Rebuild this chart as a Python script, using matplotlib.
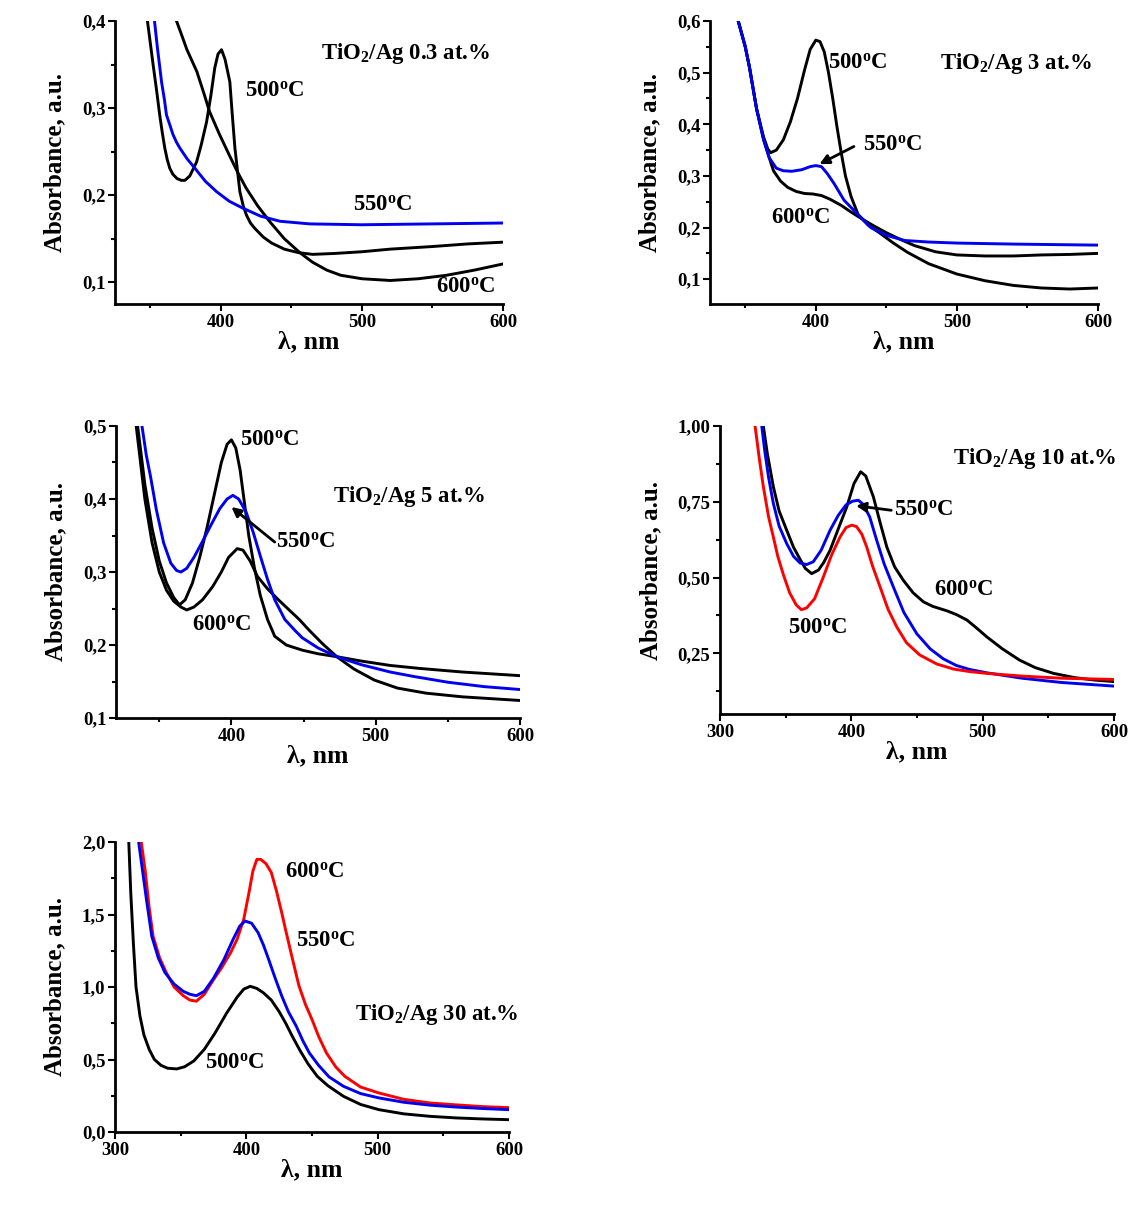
import numpy as np
import matplotlib
matplotlib.use("Agg")
import matplotlib.pyplot as plt

plt.rcParams['font.family'] = ['Liberation Serif', 'DejaVu Serif']
plt.rcParams['font.weight'] = 'bold'
plt.rcParams['mathtext.fontset'] = 'custom'
plt.rcParams['mathtext.rm'] = 'Liberation Serif:bold'
plt.rcParams['mathtext.it'] = 'Liberation Serif:bold'
plt.rcParams['mathtext.bf'] = 'Liberation Serif:bold'

BLUE = '#0000f0'
RED = '#ff0000'

# ---- TiO2/Ag 0.3 at.% ----
p1_500_x = [348, 350, 352, 354.5, 356.7, 358.5, 360.3, 362, 363.8, 366, 369, 372, 374.5, 378, 382.8, 386, 389.9,
            393, 395.7, 398, 400.5, 403, 406.4, 408, 410, 411.8, 413.5, 416, 418.2, 421, 424, 430, 436, 445, 455,
            465, 480, 500, 520, 550, 575, 600]
p1_500_y = [0.40, 0.375, 0.35, 0.32, 0.292, 0.272, 0.254, 0.241, 0.231, 0.224, 0.219, 0.217, 0.217, 0.222, 0.238,
            0.257, 0.284, 0.315, 0.346, 0.362, 0.367, 0.356, 0.33, 0.295, 0.254, 0.228, 0.204, 0.187, 0.177, 0.168,
            0.162, 0.152, 0.145, 0.138, 0.134, 0.132, 0.133, 0.135, 0.138, 0.141, 0.144, 0.146]
p1_550_x = [353, 355, 356.5, 358, 360, 361.5, 364, 366, 368.5, 371, 376, 381.6, 389, 397, 406, 415.7, 428, 442, 463,
            500, 550, 600]
p1_550_y = [0.40, 0.37, 0.35, 0.33, 0.31, 0.292, 0.28, 0.27, 0.261, 0.254, 0.242, 0.231, 0.216, 0.204, 0.193, 0.185,
            0.176, 0.17, 0.167, 0.166, 0.167, 0.168]
p1_600_x = [368.6, 372, 376, 383, 388, 392, 399, 406, 412, 418, 426, 435, 445, 456, 465, 475, 485, 500, 520, 540,
            560, 580, 600]
p1_600_y = [0.40, 0.385, 0.367, 0.342, 0.317, 0.296, 0.27, 0.246, 0.226, 0.208, 0.188, 0.169, 0.15, 0.134, 0.123,
            0.114, 0.108, 0.104, 0.102, 0.104, 0.108, 0.114, 0.121]

# ---- TiO2/Ag 3 at.% ----
p2_500_x = [345, 350, 353, 358, 363, 366, 368, 372, 377, 382, 387, 392, 396, 400, 403, 406, 409, 412, 415, 418, 421,
            425, 430, 437, 445, 455, 465, 480, 500, 520, 540, 560, 580, 600]
p2_500_y = [0.60, 0.55, 0.51, 0.43, 0.375, 0.352, 0.345, 0.35, 0.37, 0.405, 0.45, 0.505, 0.545, 0.563, 0.56, 0.54,
            0.50, 0.45, 0.395, 0.345, 0.30, 0.26, 0.225, 0.205, 0.19, 0.17, 0.152, 0.13, 0.11, 0.097, 0.088, 0.083,
            0.081, 0.083]
p2_550_x = [345, 350, 353, 358, 363, 367, 372, 377, 383, 390, 396, 400, 404, 408, 413, 420, 430, 439, 450, 463, 480,
            500, 540, 600]
p2_550_y = [0.60, 0.55, 0.51, 0.43, 0.37, 0.335, 0.315, 0.31, 0.309, 0.312, 0.318, 0.32, 0.318, 0.305, 0.285, 0.253,
            0.225, 0.20, 0.185, 0.175, 0.172, 0.17, 0.168, 0.166]
p2_600_x = [345, 350, 353, 358, 363, 367, 370, 375, 380, 386, 392, 398, 404, 410, 418, 425, 432, 440, 450, 460, 470,
            485, 500, 520, 540, 560, 580, 600]
p2_600_y = [0.60, 0.55, 0.51, 0.43, 0.37, 0.335, 0.31, 0.29, 0.278, 0.27, 0.266, 0.265, 0.262, 0.255, 0.243, 0.23,
            0.218, 0.205, 0.19, 0.177, 0.165, 0.153, 0.147, 0.145, 0.145, 0.147, 0.148, 0.15]

# ---- TiO2/Ag 5 at.% ----
p3_500_x = [335, 340, 345, 350, 355, 360, 364, 368, 373, 378, 383, 388, 393, 397, 400, 403, 406, 409, 412, 416, 420,
            425, 430, 438, 449, 460, 473, 490, 510, 530, 560, 600]
p3_500_y = [0.50, 0.42, 0.36, 0.315, 0.285, 0.265, 0.255, 0.262, 0.285, 0.32, 0.36, 0.405, 0.45, 0.475, 0.481, 0.47,
            0.44, 0.395, 0.35, 0.305, 0.268, 0.235, 0.212, 0.20, 0.193, 0.188, 0.184, 0.178, 0.172, 0.168, 0.163, 0.158]
p3_550_x = [338, 341, 344, 348, 353, 358, 362, 365, 369, 374, 380, 386, 392, 397, 401, 405, 410, 415, 420, 425, 430,
            437, 444, 449, 460, 473, 490, 510, 526, 550, 575, 600]
p3_550_y = [0.50, 0.46, 0.43, 0.385, 0.34, 0.312, 0.302, 0.30, 0.305, 0.32, 0.342, 0.365, 0.387, 0.40, 0.405, 0.40,
            0.383, 0.355, 0.322, 0.29, 0.262, 0.235, 0.22, 0.21, 0.196, 0.184, 0.173, 0.163, 0.157, 0.149, 0.143, 0.139]
p3_600_x = [334, 340, 345, 350, 355, 360, 365, 369, 374, 380, 387, 393, 398, 404, 408, 413, 418, 425, 432, 440, 447,
            454, 463, 473, 485, 499, 515, 535, 560, 600]
p3_600_y = [0.50, 0.40, 0.34, 0.30, 0.275, 0.26, 0.252, 0.248, 0.252, 0.262, 0.28, 0.30, 0.32, 0.332, 0.33, 0.315,
            0.294, 0.277, 0.263, 0.248, 0.235, 0.22, 0.202, 0.184, 0.167, 0.152, 0.141, 0.134, 0.129, 0.124]

# ---- TiO2/Ag 10 at.% ----
p4_500_x = [326.7, 330, 333, 337, 340.6, 344, 348, 353, 358, 362, 366, 372, 378.7, 385, 391.4, 396, 400.3, 404, 408,
            411.7, 416, 421.9, 428, 434.6, 442, 452, 465, 478, 490, 503, 530, 560, 600]
p4_500_y = [1.0, 0.89, 0.80, 0.70, 0.634, 0.57, 0.513, 0.45, 0.41, 0.394, 0.40, 0.43, 0.502, 0.575, 0.634, 0.665,
            0.673, 0.668, 0.643, 0.601, 0.54, 0.469, 0.395, 0.337, 0.285, 0.245, 0.215, 0.198, 0.19, 0.184, 0.175,
            0.168, 0.164]
p4_550_x = [331.8, 334, 337, 340.6, 345, 350.8, 356, 361, 366, 371, 377, 383.8, 390, 396, 401, 405.3, 409, 414,
            419.3, 425, 432, 440, 449.8, 460, 470, 480, 490, 503, 530, 560, 600]
p4_550_y = [1.0, 0.92, 0.83, 0.745, 0.67, 0.612, 0.57, 0.548, 0.543, 0.552, 0.59, 0.656, 0.705, 0.74, 0.752, 0.755,
            0.742, 0.70, 0.623, 0.545, 0.469, 0.385, 0.315, 0.265, 0.232, 0.21, 0.197, 0.186, 0.168, 0.154, 0.142]
p4_600_x = [333, 336, 340.6, 345, 350.8, 356, 361, 365, 369.8, 375, 379, 383.8, 390, 396.5, 402, 407.1, 411, 416.8,
            422, 427, 433, 439.6, 447, 454.9, 462, 473, 480, 488, 495, 503, 515, 528, 540, 554, 570, 585, 600]
p4_600_y = [1.0, 0.91, 0.80, 0.72, 0.656, 0.60, 0.56, 0.53, 0.513, 0.525, 0.55, 0.59, 0.66, 0.733, 0.81, 0.849,
            0.835, 0.766, 0.68, 0.601, 0.535, 0.491, 0.45, 0.42, 0.405, 0.39, 0.378, 0.36, 0.335, 0.305, 0.265,
            0.228, 0.203, 0.184, 0.17, 0.162, 0.157]

# ---- TiO2/Ag 30 at.% ----
p5_500_x = [310.5, 312, 314, 316, 319, 322, 326, 330, 335, 340, 347, 353, 360, 368, 376, 385, 393, 398, 403, 408,
            413, 419, 425, 430, 435, 441, 447, 454, 462, 474, 487, 501, 520, 540, 560, 580, 600]
p5_500_y = [2.0, 1.65, 1.3, 1.0, 0.8, 0.67, 0.57, 0.5, 0.46, 0.44, 0.435, 0.45, 0.49, 0.57, 0.68, 0.82, 0.93, 0.985,
            1.005, 0.99, 0.96, 0.91, 0.83, 0.75, 0.66, 0.56, 0.47, 0.384, 0.32, 0.246, 0.19, 0.154, 0.125, 0.108,
            0.097, 0.09, 0.085]
p5_550_x = [318, 321, 324, 328, 333, 338, 345, 352, 357, 362, 368, 375, 383, 390, 395, 399, 404, 409, 413, 417, 422,
            427, 432, 438, 443, 448, 455, 463, 474, 487, 501, 520, 540, 560, 580, 600]
p5_550_y = [2.0, 1.8, 1.6, 1.35, 1.2, 1.1, 1.02, 0.97, 0.95, 0.94, 0.97, 1.06, 1.19, 1.33, 1.42, 1.455, 1.44, 1.374,
            1.29, 1.19, 1.06, 0.937, 0.83, 0.73, 0.63, 0.545, 0.46, 0.38, 0.315, 0.265, 0.235, 0.205, 0.185, 0.172,
            0.162, 0.154]
p5_600_x = [320, 323, 326, 329, 334, 339, 345, 352, 357, 362, 368, 375, 381, 388, 393, 398, 402, 405, 408, 411, 415,
            419, 423, 427, 430, 434, 440, 445, 450, 455, 461, 468, 475, 487, 501, 520, 540, 560, 580, 600]
p5_600_y = [2.0, 1.8, 1.55, 1.35, 1.2, 1.1, 1.0, 0.94, 0.91, 0.902, 0.95, 1.05, 1.13, 1.236, 1.33, 1.466, 1.65, 1.8,
            1.88, 1.88, 1.85, 1.79, 1.66, 1.51, 1.39, 1.236, 1.01, 0.88, 0.776, 0.66, 0.545, 0.45, 0.384, 0.31, 0.269,
            0.225, 0.20, 0.187, 0.175, 0.168]

# tick labels
y1_ticks = [0.1, 0.2, 0.3, 0.4]
y1_labels = ['0,1', '0,2', '0,3', '0,4']
y2_ticks = [0.1, 0.2, 0.3, 0.4, 0.5, 0.6]
y2_labels = ['0,1', '0,2', '0,3', '0,4', '0,5', '0,6']
y3_ticks = [0.1, 0.2, 0.3, 0.4, 0.5]
y3_labels = ['0,1', '0,2', '0,3', '0,4', '0,5']
y4_ticks = [0.25, 0.5, 0.75, 1.0]
y4_labels = ['0,25', '0,50', '0,75', '1,00']
y5_ticks = [0.0, 0.5, 1.0, 1.5, 2.0]
y5_labels = ['0,0', '0,5', '1,0', '1,5', '2,0']

W, H = 1130, 1210
fig = plt.figure(figsize=(W / 100, H / 100), dpi=100)


def make_axes(left, right, top, bottom):
    return fig.add_axes([left / W, 1 - bottom / H, (right - left) / W, (bottom - top) / H])


def style(ax, xlim, ylim, xticks, yticks, ylabels, yminor, xminor=(350, 450, 550)):
    ax.set_xlim(*xlim)
    ax.set_ylim(*ylim)
    for s in ['top', 'right']:
        ax.spines[s].set_visible(False)
    for s in ['left', 'bottom']:
        ax.spines[s].set_linewidth(2)
    ax.set_xticks(xticks)
    ax.set_xticklabels([str(t) for t in xticks])
    ax.set_xticks(list(xminor), minor=True)
    ax.set_yticks(yticks)
    ax.set_yticklabels(ylabels)
    ax.set_yticks(yminor, minor=True)
    ax.tick_params(which='major', length=5, width=1.5, labelsize=13.5, pad=2)
    ax.tick_params(which='minor', length=3, width=1.5)
    for lab in ax.get_xticklabels() + ax.get_yticklabels():
        lab.set_fontweight('bold')
    ax.set_xlabel('λ, nm', fontsize=18.5, fontweight='bold', labelpad=0)
    ax.set_ylabel('Absorbance, a.u.', fontsize=18, fontweight='bold', labelpad=11)


def deg(t):
    return t + r'$^\mathrm{o}$C'


def label(ax, x, y, s, size=16.4):
    ax.text(x, y, s, fontsize=size, fontweight='bold', ha='left', va='center')


def arrow(ax, tail, head):
    ax.annotate('', xy=head, xytext=tail,
                arrowprops=dict(arrowstyle='-|>', color='k', lw=2, mutation_scale=14, shrinkA=0, shrinkB=0))


lw = 2.1

# panel 1
ax = make_axes(115, 503, 21, 304)
ax.plot(p1_500_x, p1_500_y, color='k', lw=lw)
ax.plot(p1_600_x, p1_600_y, color='k', lw=lw)
ax.plot(p1_550_x, p1_550_y, color=BLUE, lw=lw)
style(ax, (325, 600), (0.075, 0.4), [400, 500, 600], y1_ticks, y1_labels, [0.15, 0.25, 0.35])
label(ax, 470.7, 0.363, r'TiO$_\mathrm{2}$/Ag 0.3 at.%')
label(ax, 417, 0.319, deg('500'))
label(ax, 493.4, 0.1885, deg('550'))
label(ax, 552.3, 0.094, deg('600'))

# panel 2
ax = make_axes(710, 1098, 21, 304)
ax.plot(p2_500_x, p2_500_y, color='k', lw=lw)
ax.plot(p2_600_x, p2_600_y, color='k', lw=lw)
ax.plot(p2_550_x, p2_550_y, color=BLUE, lw=lw)
style(ax, (325, 600), (0.052, 0.6), [400, 500, 600], y2_ticks, y2_labels, [0.15, 0.25, 0.35, 0.45, 0.55])
label(ax, 408.4, 0.518, deg('500'))
label(ax, 487.8, 0.518, r'TiO$_\mathrm{2}$/Ag 3 at.%')
label(ax, 433.7, 0.36, deg('550'))
arrow(ax, (427, 0.357), (402.6, 0.323))
label(ax, 368.5, 0.218, deg('600'))

# panel 3
ax = make_axes(116, 520, 426, 718)
ax.plot(p3_500_x, p3_500_y, color='k', lw=lw)
ax.plot(p3_600_x, p3_600_y, color='k', lw=lw)
ax.plot(p3_550_x, p3_550_y, color=BLUE, lw=lw)
style(ax, (320, 600), (0.1, 0.5), [400, 500, 600], y3_ticks, y3_labels, [0.15, 0.25, 0.35, 0.45])
label(ax, 406, 0.48, deg('500'))
label(ax, 470.6, 0.403, r'TiO$_\mathrm{2}$/Ag 5 at.%')
label(ax, 431, 0.341, deg('550'))
arrow(ax, (430, 0.341), (400, 0.389))
label(ax, 372.5, 0.227, deg('600'))

# panel 4
ax = make_axes(720, 1114, 426, 714)
ax.plot(p4_600_x, p4_600_y, color='k', lw=lw)
ax.plot(p4_550_x, p4_550_y, color=BLUE, lw=lw)
ax.plot(p4_500_x, p4_500_y, color=RED, lw=lw)
style(ax, (300, 600), (0.05, 1.0), [300, 400, 500, 600], y4_ticks, y4_labels, [0.125, 0.375, 0.625, 0.875])
label(ax, 477.7, 0.893, r'TiO$_\mathrm{2}$/Ag 10 at.%')
label(ax, 432.5, 0.722, deg('550'))
arrow(ax, (430.4, 0.722), (403.6, 0.737))
label(ax, 463.2, 0.458, deg('600'))
label(ax, 352, 0.332, deg('500'))

# panel 5
ax = make_axes(115, 509, 842, 1132)
ax.plot(p5_500_x, p5_500_y, color='k', lw=lw)
ax.plot(p5_600_x, p5_600_y, color=RED, lw=lw)
ax.plot(p5_550_x, p5_550_y, color=BLUE, lw=lw)
style(ax, (300, 600), (0.0, 2.0), [300, 400, 500, 600], y5_ticks, y5_labels, [0.25, 0.75, 1.25, 1.75])
label(ax, 429.4, 1.79, deg('600'))
label(ax, 437.8, 1.316, deg('550'))
label(ax, 482.4, 0.81, r'TiO$_\mathrm{2}$/Ag 30 at.%')
label(ax, 368.2, 0.476, deg('500'))

fig.savefig('out.png', dpi=100)
